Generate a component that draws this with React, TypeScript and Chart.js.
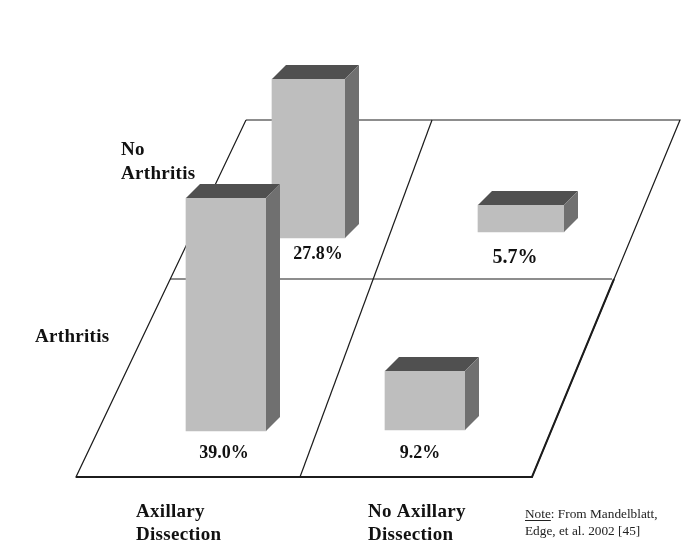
import React, { useEffect, useRef } from "react";
import { Chart, registerables } from "chart.js";

Chart.register(...registerables);

const W = 685;
const H = 549;

// Rates shown in the picture
const categories = ["Arthritis / Axillary", "No Arthritis / Axillary", "No Arthritis / No Axillary", "Arthritis / No Axillary"];
const rates = [39.0, 27.8, 5.7, 9.2];

// Floor outline, in the floor scale (origin lower left)
const floorOuter = [{ x: 246, y: 429 }, { x: 680, y: 429 }, { x: 532, y: 72 }, { x: 76, y: 72 }, { x: 246, y: 429 }];
const floorHeavyBottom = [{ x: 76, y: 72 }, { x: 532, y: 72 }, { x: 614, y: 270 }];
const floorMiddle = [{ x: 170, y: 270 }, { x: 612, y: 270 }];
const floorDivider = [{ x: 432, y: 429 }, { x: 300, y: 72 }];

// Text
const valueLabelPositions = [[224, 458], [318, 259], [515, 263], [420, 458]];
const valueLabelSizes = [18, 18, 20, 18];
const rowLabels: [string, number, number][] = [["No", 121, 155], ["Arthritis", 121, 179], ["Arthritis", 35, 342]];
const colLabels: [string, number, number][] = [["Axillary", 136, 517], ["Dissection", 136, 540], ["No Axillary", 368, 517], ["Dissection", 368, 540]];

// Geometry of each bar in the picture: not proportional to its rate, so each bar has its own hidden axis
const barCentres = [226, 308.5, 521, 425];
const barWidths = [80, 73, 86, 80];
const barBasePx = [431, 238, 232, 430];
const barTopPx = [198, 79, 205, 371];
const DEPTH = 14;

const barAxisId = (i: number) => `bar${i}`;

export default function App() {
  const ref = useRef<HTMLCanvasElement>(null);
  useEffect(() => {
    if (!ref.current) return;
    const scales: any = {
      x: { type: "linear", min: 0, max: W, display: false, offset: false, grid: { offset: false } },
      floor: { type: "linear", min: 0, max: H, display: false },
    };
    rates.forEach((r, i) => {
      const k = (barBasePx[i] - barTopPx[i]) / r;
      scales[barAxisId(i)] = {
        type: "linear",
        display: false,
        min: -(H - barBasePx[i]) / k,
        max: barBasePx[i] / k,
      };
    });

    const line = (data: { x: number; y: number }[], borderWidth: number) => ({
      type: "line" as const,
      data,
      yAxisID: "floor",
      xAxisID: "x",
      borderColor: "#1c1c1c",
      borderWidth,
      pointRadius: 0,
      tension: 0,
      fill: false,
      order: 10,
    });

    const depthPlugin = {
      id: "depth",
      afterDatasetsDraw(chart: any) {
        const c = chart.ctx;
        [1, 2, 3, 0].forEach((i) => {
          const el = chart.getDatasetMeta(i).data[0];
          const l = el.x - el.width / 2;
          const r = el.x + el.width / 2;
          const t = el.y;
          const b = el.base;
          c.fillStyle = "#505050";
          c.beginPath();
          c.moveTo(l, t);
          c.lineTo(l + DEPTH, t - DEPTH);
          c.lineTo(r + DEPTH, t - DEPTH);
          c.lineTo(r, t);
          c.closePath();
          c.fill();
          c.fillStyle = "#707070";
          c.beginPath();
          c.moveTo(r, t);
          c.lineTo(r + DEPTH, t - DEPTH);
          c.lineTo(r + DEPTH, b - DEPTH);
          c.lineTo(r, b);
          c.closePath();
          c.fill();
        });
      },
      afterDraw(chart: any) {
        const c = chart.ctx;
        c.save();
        c.fillStyle = "#111";
        c.textBaseline = "alphabetic";
        c.textAlign = "center";
        rates.forEach((r, i) => {
          c.font = `bold ${valueLabelSizes[i]}px "Liberation Serif"`;
          c.fillText(`${r.toFixed(1)}%`, valueLabelPositions[i][0], valueLabelPositions[i][1]);
        });
        c.textAlign = "left";
        c.font = 'bold 19px "Liberation Serif"';
        (c as any).letterSpacing = "0.3px";
        [...rowLabels, ...colLabels].forEach(([t, x, y]) => c.fillText(t, x, y));
        (c as any).letterSpacing = "0px";
        c.font = '13.3px "Liberation Serif"';
        c.fillStyle = "#222";
        c.fillText("Note", 525, 518);
        const nw = c.measureText("Note").width;
        c.fillText(": From Mandelblatt,", 525 + nw, 518);
        c.fillText("Edge, et al. 2002 [45]", 525, 535);
        c.strokeStyle = "#222";
        c.lineWidth = 1;
        c.beginPath();
        c.moveTo(525, 520.5);
        c.lineTo(525 + nw, 520.5);
        c.stroke();
        c.restore();
      },
    };

    const chart = new Chart(ref.current, {
      type: "bar",
      data: {
        datasets: [
          ...rates.map((r, i) => ({
            type: "bar" as const,
            label: categories[i],
            data: [{ x: barCentres[i], y: r }],
            yAxisID: barAxisId(i),
            xAxisID: "x",
            barThickness: barWidths[i],
            grouped: false,
            backgroundColor: "#bebebe",
            borderWidth: 0,
            order: 1,
          })),
          line(floorOuter, 1.2),
          line(floorMiddle, 1.2),
          line(floorDivider, 1.2),
          line(floorHeavyBottom, 2),
        ],
      } as any,
      options: {
        responsive: false,
        animation: false,
        layout: { padding: 0 },
        plugins: { legend: { display: false }, tooltip: { enabled: false }, title: { display: false } },
        scales,
      } as any,
      plugins: [depthPlugin],
    });
    return () => chart.destroy();
  }, []);

  return (
    <div style={{ position: "fixed", left: 0, top: 0, width: W, height: H, background: "#fff" }}>
      <canvas ref={ref} width={W} height={H} style={{ display: "block" }} />
    </div>
  );
}
